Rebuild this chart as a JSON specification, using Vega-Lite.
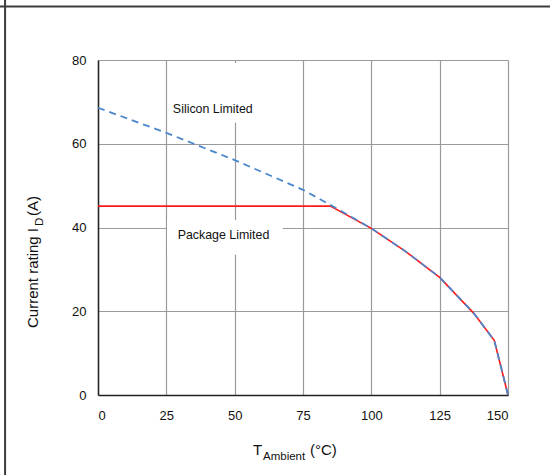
{
  "$schema": "https://vega.github.io/schema/vega-lite/v6.json",
  "width": 410,
  "height": 335,
  "autosize": "none",
  "padding": {"left": 98, "top": 60, "right": 42, "bottom": 80},
  "background": "white",
  "config": {"view": {"stroke": null}, "font": "Liberation Sans"},
  "datasets": {
    "curves": [
      {"series": "Silicon Limited", "t": 0, "i": 68.6},
      {"series": "Silicon Limited", "t": 25, "i": 62.6},
      {"series": "Silicon Limited", "t": 50, "i": 56.1},
      {"series": "Silicon Limited", "t": 75, "i": 49.0},
      {"series": "Silicon Limited", "t": 85, "i": 45.4},
      {"series": "Silicon Limited", "t": 100, "i": 39.8},
      {"series": "Silicon Limited", "t": 112.5, "i": 34.3},
      {"series": "Silicon Limited", "t": 125, "i": 28.1},
      {"series": "Silicon Limited", "t": 137.5, "i": 19.5},
      {"series": "Silicon Limited", "t": 145, "i": 13.0},
      {"series": "Silicon Limited", "t": 150, "i": 0},
      {"series": "Package Limited", "t": 0, "i": 45.1},
      {"series": "Package Limited", "t": 85, "i": 45.1},
      {"series": "Package Limited", "t": 100, "i": 39.8},
      {"series": "Package Limited", "t": 112.5, "i": 34.3},
      {"series": "Package Limited", "t": 125, "i": 28.1},
      {"series": "Package Limited", "t": 137.5, "i": 19.5},
      {"series": "Package Limited", "t": 145, "i": 13.0},
      {"series": "Package Limited", "t": 150, "i": 0}
    ],
    "labels": [
      {"label": "Silicon Limited", "t": 42, "i": 68.3, "t1": 26.5, "t2": 57.5, "i1": 65, "i2": 79.3},
      {"label": "Package Limited", "t": 45.9, "i": 38.2, "t1": 25.3, "t2": 67.6, "i1": 33.5, "i2": 41.8}
    ],
    "one": [{"k": 1}]
  },
  "layer": [
    {
      "data": {"name": "labels"},
      "mark": {"type": "rect", "color": "white"},
      "encoding": {
        "x": {"field": "t1", "type": "quantitative", "scale": {"domain": [0, 150], "nice": false},
          "axis": {"values": [0, 25, 50, 75, 100, 125, 150], "title": null, "grid": true, "gridColor": "#9a9a9a", "gridWidth": 1.2,
            "domainColor": "#222222", "domainWidth": 1.5, "ticks": false, "labelPadding": 14, "labelFontSize": 13, "labelColor": "#111111", "labelFont": "Liberation Sans"}},
        "y": {"field": "i1", "type": "quantitative", "scale": {"domain": [0, 80], "nice": false},
          "axis": {"values": [0, 20, 40, 60, 80], "title": null, "grid": true, "gridColor": "#9a9a9a", "gridWidth": 1.2,
            "domainColor": "#222222", "domainWidth": 1.5, "ticks": false, "labelPadding": 12, "labelFontSize": 13, "labelColor": "#111111", "labelFont": "Liberation Sans"}},
        "x2": {"field": "t2"},
        "y2": {"field": "i2"}
      }
    },
    {
      "data": {"name": "curves"},
      "transform": [{"filter": "datum.series === 'Package Limited'"}],
      "mark": {"type": "line", "color": "#ff1a1a", "strokeWidth": 1.6},
      "encoding": {
        "x": {"field": "t", "type": "quantitative"},
        "y": {"field": "i", "type": "quantitative"}
      }
    },
    {
      "data": {"name": "curves"},
      "transform": [{"filter": "datum.series === 'Silicon Limited'"}],
      "mark": {"type": "line", "color": "#4a86cc", "strokeWidth": 1.8, "strokeDash": [7, 5]},
      "encoding": {
        "x": {"field": "t", "type": "quantitative"},
        "y": {"field": "i", "type": "quantitative"}
      }
    },
    {
      "data": {"name": "labels"},
      "mark": {"type": "text", "fontSize": 12.4, "color": "#111111", "font": "Liberation Sans"},
      "encoding": {
        "x": {"field": "t", "type": "quantitative"},
        "y": {"field": "i", "type": "quantitative"},
        "text": {"field": "label"}
      }
    },
    {
      "data": {"name": "one"},
      "mark": {"type": "text", "text": "T", "fontSize": 15, "align": "left", "baseline": "alphabetic", "clip": false, "color": "#111111"},
      "encoding": {"x": {"datum": 56.7, "type": "quantitative"}, "y": {"datum": -14.33, "type": "quantitative"}}
    },
    {
      "data": {"name": "one"},
      "mark": {"type": "text", "text": "Ambient", "fontSize": 11.5, "align": "left", "baseline": "alphabetic", "clip": false, "color": "#111111"},
      "encoding": {"x": {"datum": 60.37, "type": "quantitative"}, "y": {"datum": -15.52, "type": "quantitative"}}
    },
    {
      "data": {"name": "one"},
      "mark": {"type": "text", "text": "(°C)", "fontSize": 15, "align": "left", "baseline": "alphabetic", "clip": false, "color": "#111111"},
      "encoding": {"x": {"datum": 77.56, "type": "quantitative"}, "y": {"datum": -14.33, "type": "quantitative"}}
    },
    {
      "data": {"name": "one"},
      "mark": {"type": "text", "text": "Current rating I", "fontSize": 15, "angle": 270, "align": "left", "baseline": "alphabetic", "clip": false, "color": "#111111"},
      "encoding": {"x": {"datum": -21.77, "type": "quantitative"}, "y": {"datum": 16.0, "type": "quantitative"}}
    },
    {
      "data": {"name": "one"},
      "mark": {"type": "text", "text": "D", "fontSize": 11.5, "angle": 270, "align": "left", "baseline": "alphabetic", "clip": false, "color": "#111111"},
      "encoding": {"x": {"datum": -20.3, "type": "quantitative"}, "y": {"datum": 40.36, "type": "quantitative"}}
    },
    {
      "data": {"name": "one"},
      "mark": {"type": "text", "text": "(A)", "fontSize": 15, "angle": 270, "align": "left", "baseline": "alphabetic", "clip": false, "color": "#111111"},
      "encoding": {"x": {"datum": -21.77, "type": "quantitative"}, "y": {"datum": 42.75, "type": "quantitative"}}
    },
    {
      "data": {"name": "one"},
      "mark": {"type": "rule", "color": "#3c3c3c", "strokeWidth": 2, "clip": false},
      "encoding": {"x": {"datum": -36, "type": "quantitative"}, "x2": {"datum": 166}, "y": {"datum": 92.8, "type": "quantitative"}}
    },
    {
      "data": {"name": "one"},
      "mark": {"type": "rule", "color": "#3c3c3c", "strokeWidth": 2, "clip": false},
      "encoding": {"x": {"datum": -34.0, "type": "quantitative"}, "y": {"datum": 95, "type": "quantitative"}, "y2": {"datum": -20}}
    }
  ]
}
